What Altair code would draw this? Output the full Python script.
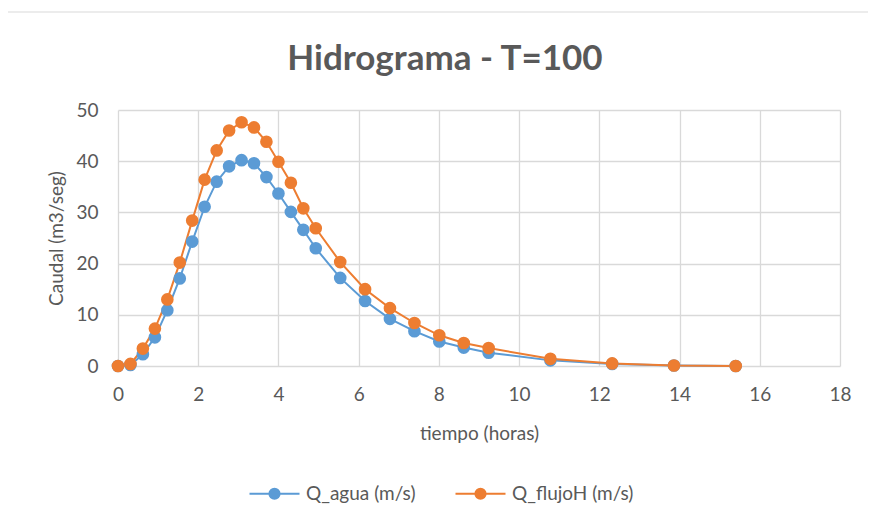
import altair as alt
import pandas as pd

# Data
tiempo = [0, 0.31, 0.62, 0.92, 1.23, 1.54, 1.85, 2.16, 2.46, 2.77, 3.08, 3.39, 3.70, 4.00,
          4.31, 4.62, 4.93, 5.54, 6.16, 6.78, 7.39, 8.01, 8.62, 9.24, 10.78, 12.32, 13.86, 15.40]
q_agua = [0, 0.2, 2.3, 5.6, 10.9, 17.1, 24.3, 31.1, 36.0, 39.0, 40.2, 39.6, 36.9, 33.7,
          30.1, 26.6, 23.0, 17.2, 12.7, 9.2, 6.8, 4.8, 3.6, 2.6, 1.1, 0.4, 0.1, 0]
q_flujo = [0, 0.4, 3.4, 7.3, 13.0, 20.2, 28.4, 36.4, 42.1, 46.0, 47.6, 46.6, 43.8, 39.9,
           35.8, 30.8, 26.9, 20.3, 15.0, 11.3, 8.4, 6.0, 4.5, 3.5, 1.4, 0.5, 0.1, 0]
series = ["Q_agua (m/s)", "Q_flujoH (m/s)"]
colors = ["#5B9BD5", "#ED7D31"]
x_ticks = [0, 2, 4, 6, 8, 10, 12, 14, 16, 18]
y_ticks = [0, 10, 20, 30, 40, 50]

n = len(tiempo)
df = pd.DataFrame({
    "tiempo": tiempo + tiempo,
    "caudal": q_agua + q_flujo,
    "serie": [series[0]] * n + [series[1]] * n,
})

W, H = 722, 256
FONT = "Lato"
GREY = "#595959"
GRID = "#D9D9D9"

# legend symbol: line with filled dot (concentric circles, stroked)
sym = "M-1,0H1"
for r in [0.2, 0.12, 0.04]:
    sym += f"M{-r},0A{r},{r},0,1,1,{r},0A{r},{r},0,1,1,{-r},0"

color = alt.Color(
    "serie:N",
    scale=alt.Scale(domain=series, range=colors),
    legend=alt.Legend(
        orient="none", legendX=130, legendY=357, direction="horizontal",
        title=None, symbolType=sym, symbolSize=2500, symbolStrokeWidth=2.2,
        labelFont=FONT, labelFontSize=19, labelColor=GREY, labelOffset=5,
        columnPadding=35,
    ),
)

lines = alt.Chart(df).mark_line(
    strokeWidth=2,
    point=alt.OverlayMarkDef(filled=True, size=160, opacity=1),
).encode(
    x=alt.X("tiempo:Q", scale=alt.Scale(domain=[0, 18], nice=False),
            axis=alt.Axis(values=x_ticks, title="tiempo (horas)")),
    y=alt.Y("caudal:Q", scale=alt.Scale(domain=[0, 50], nice=False),
            axis=alt.Axis(values=y_ticks, title="Caudal (m3/seg)")),
    color=color,
)

border_df = pd.DataFrame({"k": [0]})
border = alt.Chart(border_df).mark_rect(
    fillOpacity=0, stroke=GRID, strokeWidth=1.2, cornerRadius=2
).encode(
    x=alt.value(-113), x2=alt.value(752), y=alt.value(-98), y2=alt.value(406)
)

chart = alt.layer(border, lines).properties(
    width=W, height=H,
    title=alt.TitleParams("Hidrograma - T=100", font=FONT, fontSize=35,
                          fontWeight="bold", color=GREY, anchor="middle",
                          dx=-34, offset=-66),
    autosize=alt.AutoSizeParams(type="none"),
    padding={"left": 110, "top": 102, "right": 28, "bottom": 140},
    background="white",
).configure_axis(
    labelFont=FONT, labelFontSize=19, labelColor=GREY, labelFlush=False,
    titleFont=FONT, titleFontSize=19, titleColor=GREY, titleFontWeight="normal",
    grid=True, gridColor=GRID, gridWidth=1.3, domain=False, ticks=False,
).configure_axisX(
    labelPadding=19, titlePadding=20,
).configure_axisY(
    labelPadding=20, titlePadding=9,
).configure_view(
    stroke=None
)

chart.save("out.html", embed_options={"renderer": "svg", "actions": False})
